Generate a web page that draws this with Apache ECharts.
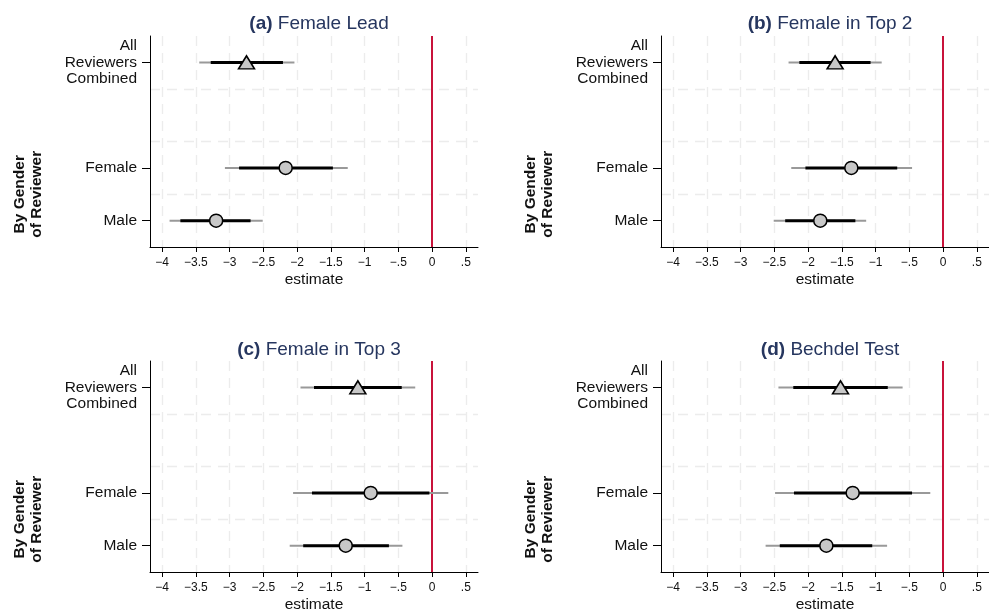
<!DOCTYPE html>
<html><head><meta charset="utf-8">
<script src="https://cdn.jsdelivr.net/npm/echarts@6/dist/echarts.min.js"></script>
<style>html,body{margin:0;padding:0;background:#fff}#c{width:989px;height:616px}</style>
</head><body><div id="c"></div>
<script>
// ---------- data ----------
const panelLetters = ["(a)", "(b)", "(c)", "(d)"];
const panelNames = ["Female Lead", "Female in Top 2", "Female in Top 3", "Bechdel Test"];
const rowLabels = ["All\nReviewers\nCombined", "Female", "Male"];
const rowPositions = [1, 3, 4];
const rowDividers = [1.5, 2.5, 3.5];
const rowMarkers = ["triangle", "circle", "circle"];
const groupLabel = "By Gender\nof Reviewer";
const groupCenter = 3.5;
const xTicks = [-4, -3.5, -3, -2.5, -2, -1.5, -1, -0.5, 0, 0.5];
const xTickLabels = ["\u22124", "\u22123.5", "\u22123", "\u22122.5", "\u22122", "\u22121.5", "\u22121", "\u2212.5", "0", ".5"];
const xAxisTitle = "estimate";
const xRange = [-4.18, 0.68];
const yRange = [0.5, 4.5];
const referenceValue = 0;

// rows: All, Female, Male
const estimates = [
  [-2.75, -2.17, -3.20],
  [-1.60, -1.36, -1.82],
  [-1.10, -0.91, -1.28],
  [-1.52, -1.34, -1.73]
];
const ci95Low = [
  [-3.45, -3.07, -3.89],
  [-2.29, -2.25, -2.51],
  [-1.95, -2.06, -2.11],
  [-2.44, -2.49, -2.63]
];
const ci95High = [
  [-2.04, -1.25, -2.51],
  [-0.91, -0.46, -1.14],
  [-0.25, 0.24, -0.44],
  [-0.60, -0.19, -0.83]
];
const ci90Low = [
  [-3.28, -2.86, -3.73],
  [-2.13, -2.04, -2.34],
  [-1.75, -1.78, -1.91],
  [-2.22, -2.21, -2.42]
];
const ci90High = [
  [-2.21, -1.47, -2.69],
  [-1.075, -0.68, -1.30],
  [-0.45, -0.04, -0.64],
  [-0.82, -0.46, -1.05]
];

// ---------- layout / style ----------
const FONT = '"Liberation Sans", Arial, Helvetica, sans-serif';
const gridBoxes = [
  {left: 150, top: 36, width: 328, height: 211},
  {left: 661, top: 36, width: 328, height: 211},
  {left: 150, top: 361, width: 328, height: 211},
  {left: 661, top: 361, width: 328, height: 211}
];
const titleTops = [9, 9, 335, 335];
const titleColor = "#26365f";
const gridColor = "#ececec";

const chart = echarts.init(document.getElementById('c'), null, {renderer: 'canvas'});

const grids = [], xAxes = [], yAxes = [], series = [], titles = [];

function barSeries(p, lows, highs, color, width, z) {
  return {
    type: 'custom', xAxisIndex: p, yAxisIndex: p, z: z, silent: true, animation: false,
    encode: {x: [0, 1], y: 2},
    data: rowPositions.map((r, i) => [lows[p][i], highs[p][i], r]),
    renderItem: function (params, api) {
      const a = api.coord([api.value(0), api.value(2)]);
      const b = api.coord([api.value(1), api.value(2)]);
      return {type: 'line', shape: {x1: a[0], y1: a[1], x2: b[0], y2: b[1]},
              style: {stroke: color, lineWidth: width, lineCap: 'butt'}};
    }
  };
}

for (let p = 0; p < 4; p++) {
  grids.push(Object.assign({containLabel: false}, gridBoxes[p]));
  xAxes.push({
    type: 'value', gridIndex: p, min: xRange[0], max: xRange[1], z: 10,
    axisLine: {show: true, onZero: false, lineStyle: {color: '#000', width: 1}},
    axisTick: {show: true, length: 5, customValues: xTicks, lineStyle: {color: '#000', width: 1}},
    axisLabel: {show: true, customValues: xTicks, margin: 10, color: '#111', fontSize: 12, fontFamily: FONT,
      formatter: v => { const k = xTicks.findIndex(t => Math.abs(t - v) < 1e-9); return k >= 0 ? xTickLabels[k] : ''; }},
    splitLine: {show: false},
    name: xAxisTitle, nameLocation: 'middle', nameGap: 25,
    nameTextStyle: {color: '#111', fontSize: 15.5, fontFamily: FONT}
  });
  yAxes.push({
    type: 'value', gridIndex: p, min: yRange[0], max: yRange[1], inverse: true, z: 10,
    axisLine: {show: true, onZero: false, lineStyle: {color: '#000', width: 1}},
    axisTick: {show: true, length: 8, customValues: rowPositions, lineStyle: {color: '#000', width: 1}},
    axisLabel: {show: true, customValues: rowPositions, margin: 13, color: '#111', fontSize: 15.5, lineHeight: 16.5,
      fontFamily: FONT, align: 'right',
      formatter: v => { const k = rowPositions.indexOf(v); return k >= 0 ? rowLabels[k] : ''; }},
    splitLine: {show: false}
  });
  titles.push({
    text: '{b|' + panelLetters[p] + '} ' + panelNames[p],
    left: gridBoxes[p].left + gridBoxes[p].width / 2, top: titleTops[p], textAlign: 'center',
    textStyle: {color: titleColor, fontSize: 19, fontWeight: 'normal', fontFamily: FONT,
      rich: {b: {color: titleColor, fontSize: 19, fontWeight: 'bold', fontFamily: FONT}}}
  });
  // grid lines
  series.push({
    type: 'line', xAxisIndex: p, yAxisIndex: p, data: [], z: 1, silent: true, animation: false,
    markLine: {
      z: 1, symbol: 'none', silent: true, animation: false, label: {show: false},
      lineStyle: {color: gridColor, width: 1.3, type: [10, 7]},
      data: xTicks.filter(t => t !== referenceValue).map(t => ({xAxis: t}))
        .concat(rowDividers.map(d => ({yAxis: d})))
    }
  });
  // reference line
  series.push({
    type: 'line', xAxisIndex: p, yAxisIndex: p, data: [], z: 2, silent: true, animation: false,
    markLine: {
      z: 2, symbol: 'none', silent: true, animation: false, label: {show: false},
      lineStyle: {color: '#c8133b', width: 2, type: 'solid'},
      data: [{xAxis: referenceValue}]
    }
  });
  series.push(barSeries(p, ci95Low, ci95High, '#999999', 2, 3));
  series.push(barSeries(p, ci90Low, ci90High, '#000000', 3, 4));
  series.push({
    type: 'scatter', xAxisIndex: p, yAxisIndex: p, z: 6, silent: true, animation: false,
    data: rowPositions.map((r, i) => ({
      value: [estimates[p][i], r], symbol: rowMarkers[i],
      symbolSize: rowMarkers[i] === 'triangle' ? [16, 13] : 13
    })),
    itemStyle: {color: '#c8c8c8', borderColor: '#000', borderWidth: 1.5, opacity: 1}
  });
}

chart.setOption({
  backgroundColor: '#fff', animation: false,
  title: titles, grid: grids, xAxis: xAxes, yAxis: yAxes, series: series
});

// group labels, centered on the reviewer-gender rows
const groupX = [28.5, 539.5, 28.5, 539.5];
const graphics = [];
for (let p = 0; p < 4; p++) {
  const pt = chart.convertToPixel({gridIndex: p}, [xRange[0], groupCenter]);
  graphics.push({
    type: 'text', x: groupX[p], y: pt[1], rotation: Math.PI / 2, silent: true,
    style: {text: groupLabel, fill: '#111', fontSize: 15.5, fontWeight: 'bold', fontFamily: FONT,
      lineHeight: 17, align: 'center', verticalAlign: 'middle'}
  });
}
chart.setOption({graphic: graphics});
</script>
</body></html>
